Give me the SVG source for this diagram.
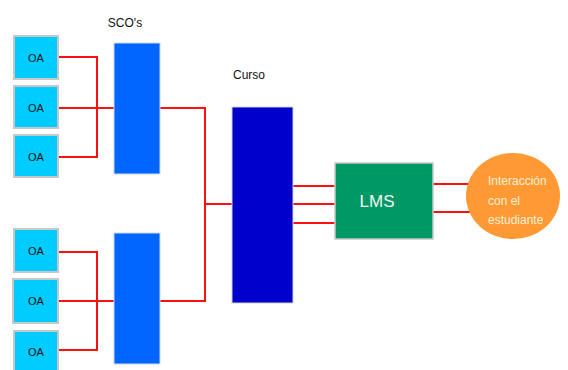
<svg xmlns="http://www.w3.org/2000/svg" width="568" height="370" viewBox="0 0 568 370">
<style>
.oa{fill:#00CCFF;stroke:#C8C8C8;stroke-width:2}
.t{font-family:"Liberation Sans",Arial,sans-serif;fill:#111}
.w{stroke:#FF1010;stroke-width:2;fill:none}
</style>
<rect width="568" height="370" fill="#fff"/>
<g id="connectors">
<path class="w" d="M58 57H97V157H58M58 108H115M58 252H97V350H58M58 301H115"/>
<path class="w" d="M160 108H205V301H160M205 204H233"/>
<path class="w" d="M293 186H336M293 204H336M293 223H336"/>
<path class="w" d="M433 184H470M433 212H470"/>
</g>
<g id="oa1"><rect class="oa" x="14" y="36" width="44" height="43"/><text class="t" x="36" y="62" font-size="11" text-anchor="middle">OA</text></g>
<g id="oa2"><rect class="oa" x="14" y="86" width="44" height="42"/><text class="t" x="36" y="112" font-size="11" text-anchor="middle">OA</text></g>
<g id="oa3"><rect class="oa" x="14" y="135" width="44" height="42"/><text class="t" x="36" y="161" font-size="11" text-anchor="middle">OA</text></g>
<g id="oa4"><rect class="oa" x="14" y="229" width="44" height="43"/><text class="t" x="36" y="255" font-size="11" text-anchor="middle">OA</text></g>
<g id="oa5"><rect class="oa" x="13" y="279" width="45" height="44"/><text class="t" x="36" y="305" font-size="11" text-anchor="middle">OA</text></g>
<g id="oa6"><rect class="oa" x="14" y="331" width="44" height="42"/><text class="t" x="36" y="356" font-size="11" text-anchor="middle">OA</text></g>
<g id="sco-label"><text class="t" x="125" y="27" font-size="12" text-anchor="middle">SCO's</text></g>
<g id="sco1"><rect x="114" y="43" width="46" height="131" fill="#0066FF" stroke="#D0D8E8" stroke-width="1"/></g>
<g id="sco2"><rect x="114" y="233" width="46" height="131" fill="#0066FF" stroke="#D0D8E8" stroke-width="1"/></g>
<g id="curso"><text class="t" x="249" y="79" font-size="12" text-anchor="middle">Curso</text><rect x="232" y="107" width="61" height="196" fill="#0000CC" stroke="#D0D0D8" stroke-width="1"/></g>
<g id="lms"><rect x="335" y="163" width="98" height="76" fill="#009966" stroke="#C8C8C8" stroke-width="1.5"/><text x="377" y="207" font-family="'Liberation Sans',Arial,sans-serif" font-size="17" fill="#F4F4F4" text-anchor="middle">LMS</text></g>
<g id="interaccion"><ellipse cx="513" cy="196" rx="47" ry="43" fill="#FF9933"/>
<text font-family="'Liberation Sans',Arial,sans-serif" font-size="12" fill="#FFF0D8"><tspan x="488" y="185">Interacción</tspan><tspan x="488" y="205">con el</tspan><tspan x="488" y="224">estudiante</tspan></text></g>
</svg>
